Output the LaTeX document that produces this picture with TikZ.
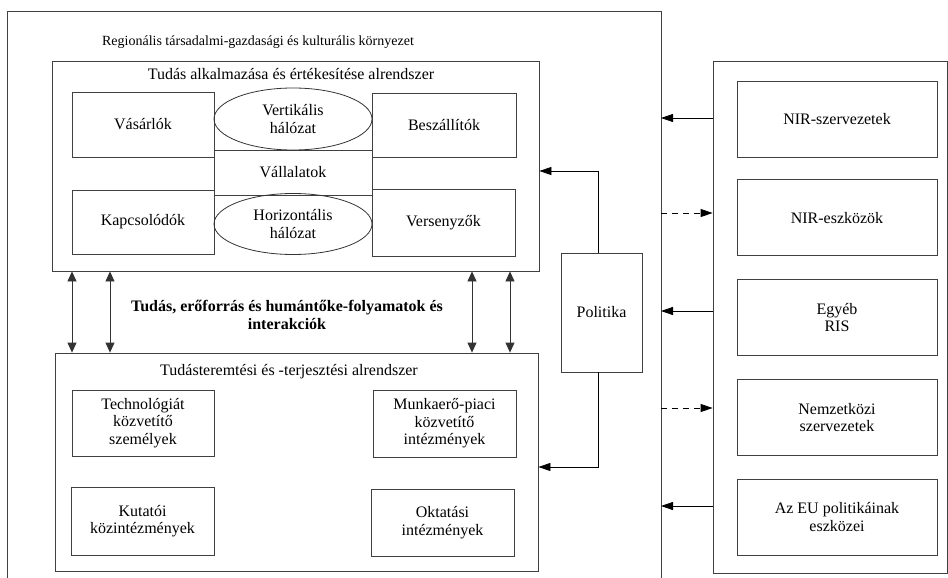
\documentclass[tikz,border=0pt]{standalone}
\usepackage{fontspec}
\setmainfont{Liberation Serif}
\usetikzlibrary{positioning}
\usetikzlibrary{arrows.meta}
\usetikzlibrary{shapes.geometric}
\newcommand{\diagfont}{\fontsize{16}{17.5}\selectfont}
\newcommand{\envfont}{\fontsize{14}{16}\selectfont}
\tikzset{sub box/.style={rectangle,draw=black!75,line width=0.8pt,inner sep=0pt},}
\tikzset{item box/.style={rectangle,draw=black!75,line width=0.8pt,align=center,font=\diagfont,inner sep=0pt},}
\tikzset{net node/.style={ellipse,draw=black!80,line width=0.8pt,align=center,font=\diagfont,inner sep=0pt,minimum width=158pt,minimum height=62pt},}
\tikzset{ext box/.style={item box,minimum width=200pt,minimum height=76pt},}
\tikzset{flow/.style={-{Triangle[length=12pt,width=8pt]},line width=0.8pt},}
\tikzset{weak flow/.style={flow,dash pattern=on 6pt off 5pt},}
\tikzset{exchange/.style={{Triangle[length=10pt,width=9pt]}-{Triangle[length=10pt,width=9pt]},line width=0.8pt,draw=black!80},}

\begin{document}
\begin{tikzpicture}[x=1pt,y=-1pt]
     \useasboundingbox (0,0) rectangle (948,578);
     % environment
     \coordinate (envsw) at (7,578);
     \coordinate (envnw) at (7,11);
     \coordinate (envne) at (661,11);
     \coordinate (envse) at (661,578);
     \draw[draw=black!75,line width=0.8pt] (envsw) -- (envnw) -- (envne) -- (envse);
     \node[font=\envfont] (env) at (258,42) {Regionális társadalmi-gazdasági és kulturális környezet};

     % knowledge application subsystem
     \node[sub box,minimum width=487pt,minimum height=210pt] (apply) at (295.5,166) {};
     \node[font=\diagfont] (applytitle) at (291,74) {Tudás alkalmazása és értékesítése alrendszer};
     \node[item box,minimum width=142pt,minimum height=65pt] (buyers) at (143,124.5) {Vásárlók};
     \node[item box,minimum width=144pt,minimum height=64pt] (suppliers) at (444,125) {Beszállítók};
     \node[item box,minimum width=158pt,minimum height=45pt] (firms) at (293,172.5) {Vállalatok};
     \node[item box,minimum width=142pt,minimum height=64pt] (related) at (143,222) {Kapcsolódók};
     \node[item box,minimum width=143pt,minimum height=67pt] (rivals) at (443.5,222.5) {Versenyzők};
     \node[net node] (vert) at (293,119) {Vertikális\\hálózat};
     \node[net node,minimum height=61pt] (horiz) at (293,224) {Horizontális\\hálózat};

     \node[font=\diagfont\bfseries,align=center] (flows) at (287,315) {Tudás, erőforrás és humántőke-folyamatok és\\interakciók};

     % knowledge creation subsystem
     \node[sub box,minimum width=483pt,minimum height=218pt] (create) at (296.5,462) {};
     \node[font=\diagfont] (createtitle) at (289,372) {Tudásteremtési és -terjesztési alrendszer};
     \node[item box,minimum width=142pt,minimum height=66pt] (techtr) at (143,423) {Technológiát\\közvetítő\\személyek};
     \node[item box,minimum width=143pt,minimum height=67pt] (labour) at (444.5,423.5) {Munkaerő-piaci\\közvetítő\\intézmények};
     \node[item box,minimum width=143pt,minimum height=68pt] (research) at (142.5,521) {Kutatói\\közintézmények};
     \node[item box,minimum width=143pt,minimum height=67pt] (educ) at (442.5,522.5) {Oktatási\\intézmények};

     \foreach \x [count=\i] in {72,110,472,510} {
        \coordinate (ex\i) at (\x,312);
        \draw[exchange] (apply.south -| ex\i) -- (create.north -| ex\i);
     }

     % policy
     \node[item box,minimum width=81pt,minimum height=119pt] (policy) at (601.5,312.5) {Politika};
     \coordinate (polup) at (598,171);
     \coordinate (poldown) at (598,467);
     \draw[flow] (policy.north -| polup) -- (polup) -- (apply.east |- polup);
     \draw[flow] (policy.south -| poldown) -- (poldown) -- (create.east |- poldown);

     % national and international level
     \node[sub box,minimum width=234pt,minimum height=512pt] (outside) at (830,317) {};
     \node[ext box] (nirorg) at (837,119) {NIR-szervezetek};
     \node[ext box] (nirtool) [below=22pt of nirorg] {NIR-eszközök};
     \node[ext box] (otherris) [below=23pt of nirtool] {Egyéb\\RIS};
     \node[ext box] (intorg) [below=23pt of otherris] {Nemzetközi\\szervezetek};
     \node[ext box] (eutool) [below=23pt of intorg] {Az EU politikáinak\\eszközei};

     \coordinate (r1) at (690,118);
     \coordinate (r2) at (690,213);
     \coordinate (r3) at (690,311);
     \coordinate (r4) at (690,408);
     \coordinate (r5) at (690,506);
     \draw[flow] (outside.west |- r1) -- (envne |- r1);
     \draw[weak flow] (envne |- r2) -- (outside.west |- r2);
     \draw[flow] (outside.west |- r3) -- (envne |- r3);
     \draw[weak flow] (envne |- r4) -- (outside.west |- r4);
     \draw[flow] (outside.west |- r5) -- (envne |- r5);
\end{tikzpicture}
\end{document}
